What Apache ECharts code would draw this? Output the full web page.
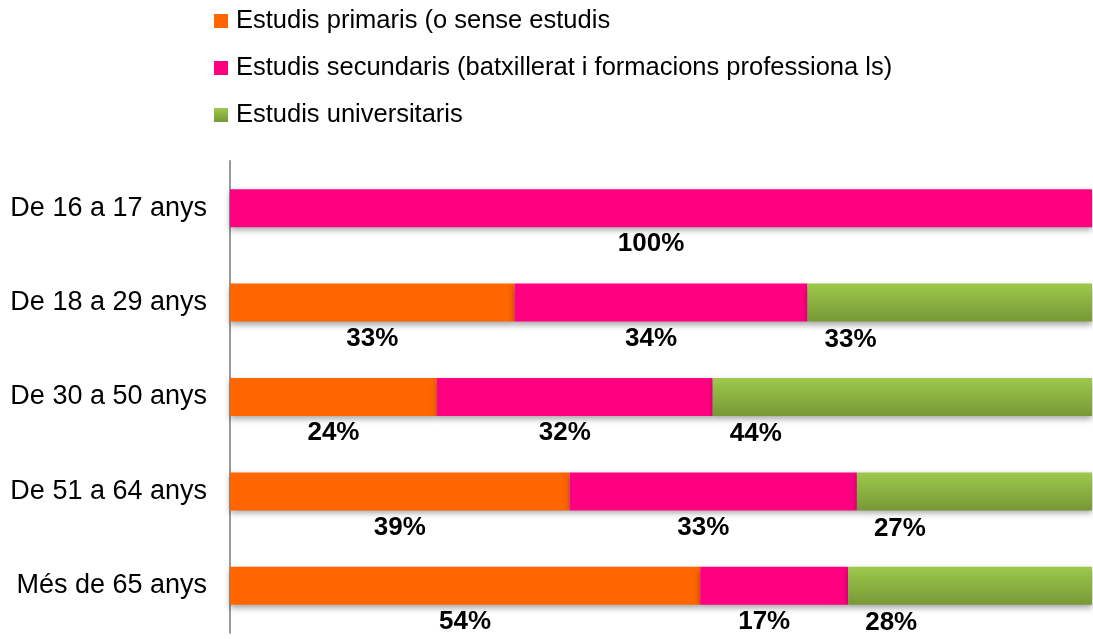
<!DOCTYPE html>
<html>
<head>
<meta charset="utf-8">
<script src="https://cdn.jsdelivr.net/npm/echarts@6/dist/echarts.min.js"></script>
<style>
  html, body { margin: 0; padding: 0; background: #fff; }
  #chart { width: 1093px; height: 639px; }
</style>
</head>
<body>
<div id="chart"></div>
<script>
// age groups, top to bottom
const categories = ["De 16 a 17 anys", "De 18 a 29 anys", "De 30 a 50 anys", "De 51 a 64 anys", "Més de 65 anys"];
const seriesNames = [
  "Estudis primaris (o sense estudis",
  "Estudis secundaris (batxillerat i formacions professiona ls)",
  "Estudis universitaris"
];
// percentages as labelled
const primaris = [0, 33, 24, 39, 54];
const secundaris = [100, 34, 32, 33, 17];
const universitaris = [0, 33, 44, 27, 28];

const raw = [primaris, secundaris, universitaris];
const totals = categories.map((c, i) => primaris[i] + secundaris[i] + universitaris[i]);
// each bar fills the full width (100% stacked)
const share = arr => arr.map((v, i) => (v / totals[i]) * 100);

const font = "'Liberation Sans', Arial, sans-serif";

const chart = echarts.init(document.getElementById("chart"));

const labelBase = {
  show: true,
  fontFamily: font,
  fontSize: 26,
  fontWeight: "bold",
  color: "#000",
  formatter: p => (raw[p.seriesIndex][p.dataIndex] ? raw[p.seriesIndex][p.dataIndex] + "%" : "")
};
const shadow = {
  shadowColor: "rgba(0,0,0,0.35)",
  shadowBlur: 6,
  shadowOffsetY: 3
};

chart.setOption({
  animation: false,
  legend: {
    orient: "vertical",
    left: 214,
    top: 8,
    padding: 0,
    itemWidth: 14,
    itemHeight: 14,
    itemGap: 21,
    icon: "rect",
    textStyle: { fontFamily: font, fontSize: 25.5, color: "#000", padding: [0, 0, 0, 3] },
    data: seriesNames
  },
  grid: { left: 230, right: 1, top: 161, height: 472 },
  xAxis: { type: "value", min: 0, max: 100, show: false },
  yAxis: {
    type: "category",
    inverse: true,
    data: categories,
    axisLine: { show: true, lineStyle: { color: "#999", width: 2 } },
    axisTick: { show: false },
    axisLabel: { fontFamily: font, fontSize: 27, color: "#000", margin: 23 }
  },
  series: [
    {
      name: seriesNames[0],
      type: "bar",
      stack: "total",
      barWidth: 38,
      data: share(primaris),
      itemStyle: Object.assign({ color: "#FF6600" }, shadow),
      label: Object.assign({ position: "bottom", distance: 4 }, labelBase)
    },
    {
      name: seriesNames[1],
      type: "bar",
      stack: "total",
      barWidth: 38,
      data: share(secundaris),
      itemStyle: Object.assign({ color: "#FF0080" }, shadow),
      label: Object.assign({ position: "bottom", distance: 4, offset: [-10, 0] }, labelBase)
    },
    {
      name: seriesNames[2],
      type: "bar",
      stack: "total",
      barWidth: 38,
      data: share(universitaris),
      itemStyle: Object.assign({
        color: new echarts.graphic.LinearGradient(0, 0, 0, 1, [
          { offset: 0, color: "#9DC94B" },
          { offset: 1, color: "#779836" }
        ])
      }, shadow),
      label: Object.assign({ position: [17, 43] }, labelBase)
    }
  ]
});

window.addEventListener("resize", () => {
  chart && chart.resize();
});
</script>
</body>
</html>
